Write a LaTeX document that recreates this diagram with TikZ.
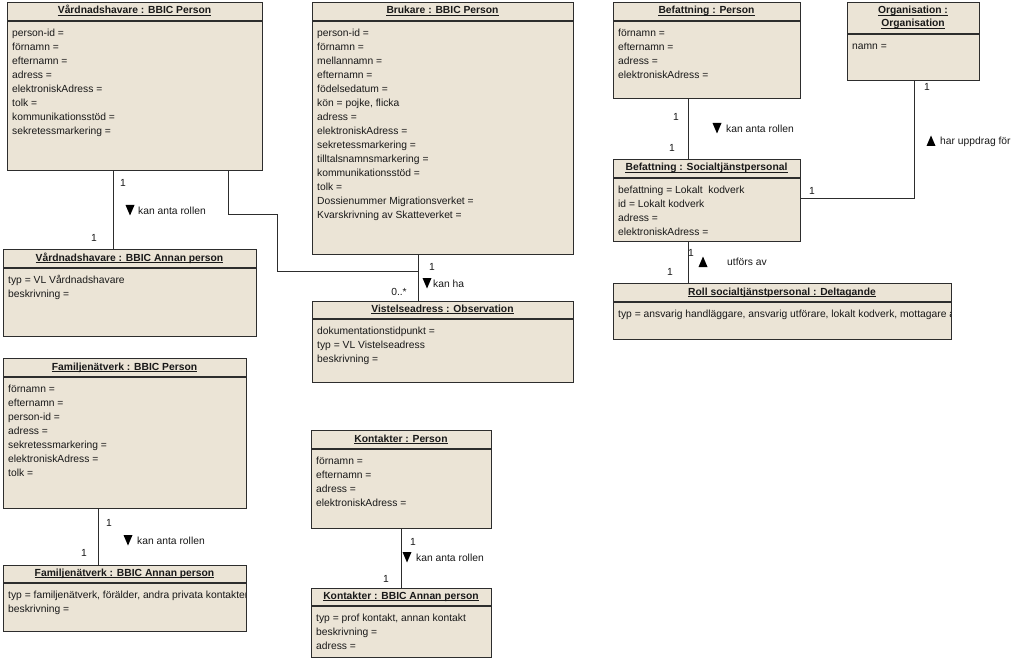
\documentclass[tikz,border=0pt]{standalone}
\usepackage{fontspec}
\setmainfont{Liberation Sans}
\definecolor{boxfill}{RGB}{235,228,214}
\definecolor{edgecol}{RGB}{45,45,45}
\tikzset{
  objbox/.style={draw=edgecol, line width=1.3pt, fill=boxfill, inner sep=0pt, anchor=north west},
  sepline/.style={draw=edgecol, line width=1.5pt},
  titletext/.style={inner sep=0pt, anchor=base, font=\fontsize{10.3pt}{12pt}\selectfont\bfseries, text=black!90},
  ulinestyle/.style={draw=black!90, line width=0.7pt},
  attrtext/.style={inner sep=0pt, anchor=base west, text=black!90},
  conn/.style={draw=edgecol, line width=1pt},
  lbl/.style={inner sep=0pt, anchor=base west, text=black!90},
  mult/.style={inner sep=0pt, anchor=center, text=black!90},
  tri/.style={fill=black}
}
% name, x1, y1, x2, y2, sep, title, attributes
\newcommand\umlobj[8]{%
  \node[objbox, minimum width={(#4-#2)*1pt}, minimum height={(#5-#3)*1pt}] (#1) at (#2,#3) {};
  \draw[sepline] (#2,#6) -- (#4,#6);
  \node[titletext] (#1-t) at ({(#2+#4)/2},{#6-7}) {#7};
  \draw[ulinestyle] ([yshift=-1.8pt]#1-t.base west) -- ([yshift=-1.8pt]#1-t.base east);
  \begin{scope}
    \clip (#2,#3) rectangle (#4-1,#5);
    \foreach \a [count=\i from 0] in {#8} {
      \node[attrtext] (#1-a\i) at ({#2+5},{#6+15.5+14*\i}) {\a};
    }
  \end{scope}
}
\newcommand\tridown[2]{\fill[tri] (#1-4.5,#2-5) -- (#1+4.5,#2-5) -- (#1,#2+5.5) -- cycle;}
\newcommand\triup[2]{\fill[tri] (#1-4.5,#2+5) -- (#1+4.5,#2+5) -- (#1,#2-5.5) -- cycle;}
\begin{document}
\begin{tikzpicture}[x=1pt,y=-1pt, font=\fontsize{10.3pt}{12pt}\selectfont]
\useasboundingbox[fill=white] (0,0) rectangle (1024,660);

\coordinate (kj) at (418,271);
\coordinate (c1) at (277,215);

% ---------- boxes ----------
\umlobj{vp}{7}{2}{262}{170}{21}{Vårdnadshavare : BBIC Person}
  {person-id =, förnamn =, efternamn =, adress =, elektroniskAdress =, tolk =, kommunikationsstöd =, sekretessmarkering =}
\umlobj{br}{312}{2}{573}{254}{21}{Brukare : BBIC Person}
  {person-id =, förnamn =, mellannamn =, efternamn =, födelsedatum =, {kön = pojke, flicka}, adress =, elektroniskAdress =, sekretessmarkering =, tilltalsnamnsmarkering =, kommunikationsstöd =, tolk =, Dossienummer Migrationsverket =, Kvarskrivning av Skatteverket =}
\umlobj{bp}{613}{2}{800}{98}{21}{Befattning : Person}
  {förnamn =, efternamn =, adress =, elektroniskAdress =}
\umlobj{org}{847}{2}{979}{80}{34}{Organisation}
  {namn =}
\node[titletext] (org-t0) at (913,13.5) {Organisation :};
\draw[ulinestyle] ([yshift=-1.8pt]org-t0.base west) -- ([yshift=-1.8pt]org-t0.base east);
\umlobj{bs}{613}{159}{800}{241}{178}{Befattning : Socialtjänstpersonal}
  {befattning = Lokalt~ kodverk, id = Lokalt kodverk, adress =, elektroniskAdress =}
\umlobj{roll}{613}{283}{951}{339}{302}{Roll socialtjänstpersonal : Deltagande}
  {{typ = ansvarig handläggare, ansvarig utförare, lokalt kodverk, mottagare av insats}}
\umlobj{va}{3}{249}{256}{336}{268}{Vårdnadshavare : BBIC Annan person}
  {typ = VL Vårdnadshavare, beskrivning =}
\umlobj{vis}{312}{301}{573}{382}{319}{Vistelseadress : Observation}
  {dokumentationstidpunkt =, typ = VL Vistelseadress, beskrivning =}
\umlobj{fp}{3}{358}{246}{508}{377}{Familjenätverk : BBIC Person}
  {förnamn =, efternamn =, person-id =, adress =, sekretessmarkering =, elektroniskAdress =, tolk =}
\umlobj{fa}{3}{565}{246}{631}{583}{Familjenätverk : BBIC Annan person}
  {{typ = familjenätverk, förälder, andra privata kontakter}, beskrivning =}
\umlobj{kp}{311}{430}{491}{528}{449}{Kontakter : Person}
  {förnamn =, efternamn =, adress =, elektroniskAdress =}
\umlobj{ka}{311}{588}{491}{657}{606}{Kontakter : BBIC Annan person}
  {{typ = prof kontakt, annan kontakt}, beskrivning =, adress =}

% ---------- connectors ----------
\draw[conn] ([xshift=106pt]vp.south west) -- ([xshift=110pt]va.north west);
\draw[conn] ([xshift=221pt]vp.south west) |- (c1) |- (kj);
\draw[conn] ([xshift=106pt]br.south west) -- ([xshift=106pt]vis.north west);
\draw[conn] ([xshift=75pt]bp.south west) -- ([xshift=75pt]bs.north west);
\draw[conn] ([xshift=67pt]org.south west) |- ([yshift=-40pt]bs.north east);
\draw[conn] ([xshift=75pt]bs.south west) -- ([xshift=75pt]roll.north west);
\draw[conn] ([xshift=95pt]fp.south west) -- ([xshift=95pt]fa.north west);
\draw[conn] ([xshift=90pt]kp.south west) -- ([xshift=90pt]ka.north west);

% ---------- labels ----------
\node[mult] (m1) at (123,183) {1};
\node[mult] (m2) at (94,238) {1};
\tridown{130}{210}
\node[lbl] (l1) at (138,214.7) {kan anta rollen};
\node[mult] (m3) at (432,267) {1};
\node[mult] (m4) at (399,292) {0..*};
\tridown{427}{283}
\node[lbl] (l2) at (433,287) {kan ha};
\node[mult] (m5) at (676,117) {1};
\node[mult] (m6) at (672,148) {1};
\tridown{717}{128}
\node[lbl] (l3) at (726,133) {kan anta rollen};
\node[mult] (m7) at (927,87) {1};
\node[mult] (m8) at (812,191) {1};
\triup{931}{141}
\node[lbl] (l4) at (940,144.5) {har uppdrag för};
\node[mult] (m9) at (691,253) {1};
\node[mult] (m10) at (670,272) {1};
\triup{703}{262}
\node[lbl] (l5) at (727,265.7) {utförs av};
\node[mult] (m11) at (109,523) {1};
\node[mult] (m12) at (84,553) {1};
\tridown{128}{540}
\node[lbl] (l6) at (137,544.7) {kan anta rollen};
\node[mult] (m13) at (413,542) {1};
\node[mult] (m14) at (386,579) {1};
\tridown{407}{557}
\node[lbl] (l7) at (416,561.7) {kan anta rollen};
\end{tikzpicture}
\end{document}
